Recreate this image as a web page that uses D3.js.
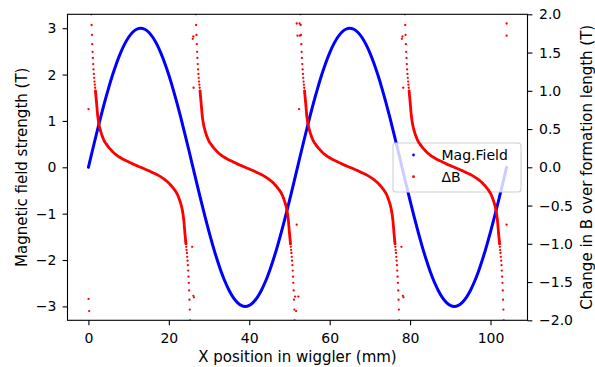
<!DOCTYPE html>
<html><head><meta charset="utf-8">
<script src="https://cdn.jsdelivr.net/npm/d3@7"></script>
<style>
html,body{margin:0;padding:0;background:#fff;}
svg{display:block;}
text{font-family:"DejaVu Sans",sans-serif;fill:#000;}
</style></head><body><svg id="chart" width="595" height="367"></svg>
<script>
// Field samples along the wiggler (mm, T)
const positionMm = [0,1,2,3,4,5,6,7,8,9,10,11,12,13,14,15,16,17,18,19,20,21,22,23,24,25,26,
  27,28,29,30,31,32,33,34,35,36,37,38,39,40,41,42,43,44,45,46,47,48,49,50,51,52,
  53,54,55,56,57,58,59,60,61,62,63,64,65,66,67,68,69,70,71,72,73,74,75,76,77,78,
  79,80,81,82,83,84,85,86,87,88,89,90,91,92,93,94,95,96,97,98,99,100,101,102,103,104];
const fieldT = [0,0.362,0.718,1.064,1.394,1.704,1.989,2.246,2.469,2.656,2.805,2.913,2.978,3,
  2.978,2.913,2.805,2.656,2.469,2.246,1.989,1.704,1.394,1.064,0.718,0.362,0,
  -0.362,-0.718,-1.064,-1.394,-1.704,-1.989,-2.246,-2.469,-2.656,-2.805,-2.913,-2.978,-3,
  -2.978,-2.913,-2.805,-2.656,-2.469,-2.246,-1.989,-1.704,-1.394,-1.064,-0.718,-0.362,0,
  0.362,0.718,1.064,1.394,1.704,1.989,2.246,2.469,2.656,2.805,2.913,2.978,3,
  2.978,2.913,2.805,2.656,2.469,2.246,1.989,1.704,1.394,1.064,0.718,0.362,0,
  -0.362,-0.718,-1.064,-1.394,-1.704,-1.989,-2.246,-2.469,-2.656,-2.805,-2.913,-2.978,-3,
  -2.978,-2.913,-2.805,-2.656,-2.469,-2.246,-1.989,-1.704,-1.394,-1.064,-0.718,-0.362,0];

// Change in B over one formation length (mm, T)
const dbPositionMm = [
  0.72,0.79,0.87,0.95,1.03,1.11,1.19,1.27,1.35,1.43,1.51,1.59,1.67,1.75,
  1.8,2,2.3,2.6,3,3.5,4,4.5,5,5.5,6,7,8,9,10,11,12,13,14,15,16,17,18,19,20,
  20.5,21,21.5,22,22.5,23,23.4,23.7,24,24.2,
  24.25,24.33,24.41,24.49,24.57,24.65,24.73,24.81,24.89,24.97,25.05,25.13,25.21,25.28,
  26.72,26.79,26.87,26.95,27.03,27.11,27.19,27.27,27.35,27.43,27.51,27.59,27.67,27.75,
  27.8,28,28.3,28.6,29,29.5,30,30.5,31,31.5,32,33,34,35,36,37,38,39,40,41,42,43,44,45,46,
  46.5,47,47.5,48,48.5,49,49.4,49.7,50,50.2,
  50.25,50.33,50.41,50.49,50.57,50.65,50.73,50.81,50.89,50.97,51.05,51.13,51.21,51.28,
  52.72,52.79,52.87,52.95,53.03,53.11,53.19,53.27,53.35,53.43,53.51,53.59,53.67,53.75,
  53.8,54,54.3,54.6,55,55.5,56,56.5,57,57.5,58,59,60,61,62,63,64,65,66,67,68,69,70,71,72,
  72.5,73,73.5,74,74.5,75,75.4,75.7,76,76.2,
  76.25,76.33,76.41,76.49,76.57,76.65,76.73,76.81,76.89,76.97,77.05,77.13,77.21,77.28,
  78.72,78.79,78.87,78.95,79.03,79.11,79.19,79.27,79.35,79.43,79.51,79.59,79.67,79.75,
  79.8,80,80.3,80.6,81,81.5,82,82.5,83,83.5,84,85,86,87,88,89,90,91,92,93,94,95,96,97,98,
  98.5,99,99.5,100,100.5,101,101.4,101.7,102,102.2,
  102.25,102.33,102.41,102.49,102.57,102.65,102.73,102.81,102.89,102.97,103.05,103.13,103.21,103.28];
const dbT = [
  2,1.86,1.73,1.61,1.51,1.43,1.35,1.28,1.22,1.17,1.12,1.08,1.04,1,
  0.97,0.86,0.68,0.57,0.48,0.40,0.34,0.30,0.265,0.235,0.205,0.16,0.125,0.095,0.07,0.045,0.022,0,
  -0.022,-0.045,-0.07,-0.095,-0.125,-0.16,-0.205,-0.235,-0.265,-0.30,-0.34,-0.40,-0.48,-0.57,-0.68,-0.86,-0.97,
  -1,-1.04,-1.08,-1.12,-1.17,-1.22,-1.28,-1.35,-1.43,-1.51,-1.61,-1.73,-1.86,-2,
  2,1.86,1.73,1.61,1.51,1.43,1.35,1.28,1.22,1.17,1.12,1.08,1.04,1,
  0.97,0.86,0.68,0.57,0.48,0.40,0.34,0.30,0.265,0.235,0.205,0.16,0.125,0.095,0.07,0.045,0.022,0,
  -0.022,-0.045,-0.07,-0.095,-0.125,-0.16,-0.205,-0.235,-0.265,-0.30,-0.34,-0.40,-0.48,-0.57,-0.68,-0.86,-0.97,
  -1,-1.04,-1.08,-1.12,-1.17,-1.22,-1.28,-1.35,-1.43,-1.51,-1.61,-1.73,-1.86,-2,
  2,1.86,1.73,1.61,1.51,1.43,1.35,1.28,1.22,1.17,1.12,1.08,1.04,1,
  0.97,0.86,0.68,0.57,0.48,0.40,0.34,0.30,0.265,0.235,0.205,0.16,0.125,0.095,0.07,0.045,0.022,0,
  -0.022,-0.045,-0.07,-0.095,-0.125,-0.16,-0.205,-0.235,-0.265,-0.30,-0.34,-0.40,-0.48,-0.57,-0.68,-0.86,-0.97,
  -1,-1.04,-1.08,-1.12,-1.17,-1.22,-1.28,-1.35,-1.43,-1.51,-1.61,-1.73,-1.86,-2,
  2,1.86,1.73,1.61,1.51,1.43,1.35,1.28,1.22,1.17,1.12,1.08,1.04,1,
  0.97,0.86,0.68,0.57,0.48,0.40,0.34,0.30,0.265,0.235,0.205,0.16,0.125,0.095,0.07,0.045,0.022,0,
  -0.022,-0.045,-0.07,-0.095,-0.125,-0.16,-0.205,-0.235,-0.265,-0.30,-0.34,-0.40,-0.48,-0.57,-0.68,-0.86,-0.97,
  -1,-1.04,-1.08,-1.12,-1.17,-1.22,-1.28,-1.35,-1.43,-1.51,-1.61,-1.73,-1.86,-2];

// Isolated samples right next to the field zeros
const strayPositionMm = [0.03,0.03,0.2,
  25.95,26.1,26.15,25.8,26.1,26.25,
  51.8,52.5,52.0,52.6,52.4,51.8,51.4,52.2,51.65,
  77.95,78.1,78.3,77.85,78.2,78.35,
  104,104,104];
const strayDbT = [0.76,-1.72,-1.88,
  1.68,1.71,1.04,-1.04,-1.68,-1.70,
  1.88,1.88,1.72,1.72,0.76,-0.75,-1.69,-1.69,-1.88,
  1.68,1.71,1.04,-1.04,-1.68,-1.70,
  1.88,1.72,-0.75];

const xTicks = [0,20,40,60,80,100];
const fieldTicks = [-3,-2,-1,0,1,2,3];
const dbTicks = [-2,-1.5,-1,-0.5,0,0.5,1,1.5,2];
const legendLabels = ["Mag.Field","ΔB"];
const seriesColors = ["#0000ff","#ff0000"];

const svg = d3.select("#chart");
const L = 67.5, R = 527.5, T = 14.3, B = 320.3;
const tickLen = 4.9, tickFont = 14, labelFont = 15;

const x = d3.scaleLinear().domain([-5.2, 109.2]).range([L, R]);
const yField = d3.scaleLinear().domain([-3.3, 3.3]).range([B, T]);
const yDb = d3.scaleLinear().domain([-2, 2]).range([B, T]);

svg.append("defs").append("clipPath").attr("id","plotClip")
  .append("rect").attr("x",L).attr("y",T).attr("width",R-L).attr("height",B-T);

// Magnetic field (left axis)
const fieldPts = positionMm.map((p,i)=>[p, fieldT[i]]);
svg.append("path")
  .attr("clip-path","url(#plotClip)")
  .attr("d", d3.line().x(d=>x(d[0])).y(d=>yField(d[1])).curve(d3.curveCatmullRom)(fieldPts))
  .attr("fill","none").attr("stroke",seriesColors[0]).attr("stroke-width",3)
  .attr("stroke-linecap","round");

// Legend (belongs to the field axes, so the ΔB layer sits above it)
const lg = svg.append("g");
lg.append("rect").attr("x",393).attr("y",143).attr("width",128).attr("height",49)
  .attr("rx",3).attr("fill","#fff").attr("fill-opacity",0.8)
  .attr("stroke","#d0d0d0").attr("stroke-width",1.1);
legendLabels.forEach((lab,i)=>{
  const cy = 155 + i*21.7;
  lg.append("circle").attr("cx",413.5).attr("cy",cy).attr("r",1.4).attr("fill",seriesColors[i]);
  lg.append("text").attr("x",441.5).attr("y",cy).attr("dy","0.36em")
    .style("font-size",tickFont+"px").text(lab);
});

// ΔB (right axis)
const dbPts = dbPositionMm.map((p,i)=>[p, dbT[i]]);
const dbLayer = svg.append("g").attr("clip-path","url(#plotClip)");
dbLayer.append("path")
  .attr("d", d3.line().defined(d=>Math.abs(d[1])<=1.0001)
    .x(d=>x(d[0])).y(d=>yDb(d[1])).curve(d3.curveMonotoneX)(dbPts))
  .attr("fill","none").attr("stroke",seriesColors[1]).attr("stroke-width",2.8)
  .attr("stroke-linecap","round");
dbLayer.selectAll("circle.db").data(dbPts).join("circle").attr("class","db")
  .attr("cx",d=>x(d[0])).attr("cy",d=>yDb(d[1])).attr("r",1.15).attr("fill",seriesColors[1]);
const strayPts = strayPositionMm.map((p,i)=>[p, strayDbT[i]]);
dbLayer.selectAll("circle.stray").data(strayPts).join("circle").attr("class","stray")
  .attr("cx",d=>x(d[0])).attr("cy",d=>yDb(d[1])).attr("r",1.15).attr("fill",seriesColors[1]);

// Axes
function styleAxis(g){
  g.select(".domain").remove();
  g.selectAll(".tick line").attr("stroke","#000").attr("stroke-width",1.1);
  g.selectAll(".tick text").style("font-size",tickFont+"px").attr("fill","#000");
}
svg.append("g").attr("transform",`translate(0,${B})`)
  .call(d3.axisBottom(x).tickValues(xTicks).tickSize(tickLen).tickPadding(8.3).tickFormat(d3.format("d")))
  .call(styleAxis);
svg.append("g").attr("transform",`translate(${L},0)`)
  .call(d3.axisLeft(yField).tickValues(fieldTicks).tickSize(tickLen).tickPadding(6.3).tickFormat(d3.format("d")))
  .call(styleAxis);
svg.append("g").attr("transform",`translate(${R},0)`)
  .call(d3.axisRight(yDb).tickValues(dbTicks).tickSize(tickLen).tickPadding(6.6).tickFormat(d3.format(".1f")))
  .call(styleAxis);

// Frame
svg.append("rect").attr("x",L).attr("y",T).attr("width",R-L).attr("height",B-T)
  .attr("fill","none").attr("stroke","#000").attr("stroke-width",1.1);

// Axis titles
svg.append("text").attr("x",(L+R)/2).attr("y",362).attr("text-anchor","middle")
  .style("font-size",labelFont+"px").text("X position in wiggler (mm)");
svg.append("text").attr("transform",`translate(27,${(T+B)/2}) rotate(-90)`).attr("text-anchor","middle")
  .style("font-size",labelFont+"px").text("Magnetic field strength (T)");
svg.append("text").attr("transform",`translate(592,${(T+B)/2}) rotate(-90)`).attr("text-anchor","middle")
  .style("font-size",labelFont+"px").text("Change in B over formation length (T)");
</script></body></html>
